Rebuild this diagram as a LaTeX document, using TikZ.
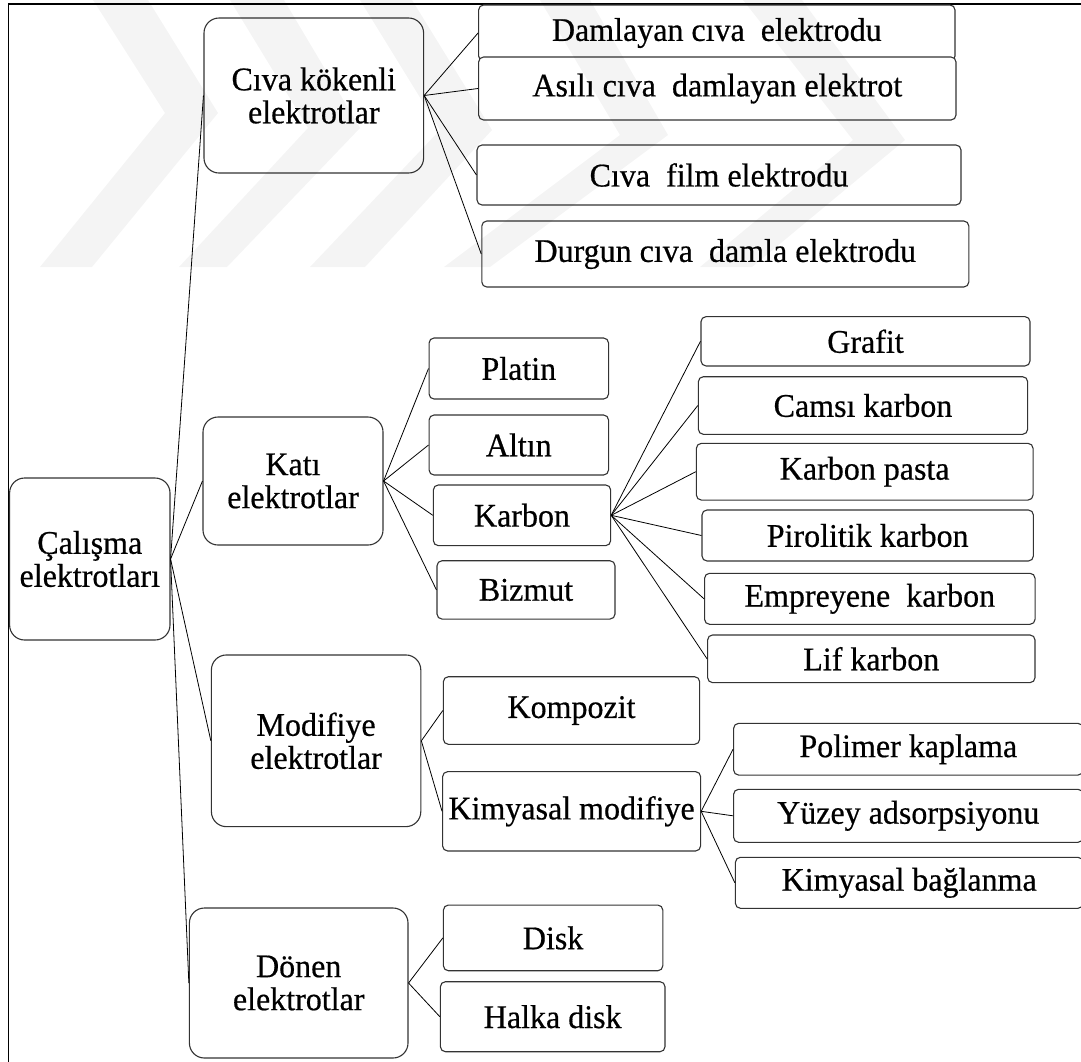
\documentclass[tikz,border=0pt]{standalone}
\usepackage{fontspec}
\setmainfont{Liberation Serif}[FakeStretch=0.97,FakeBold=0.5]
\definecolor{wmGray}{RGB}{0, 0, 0}

\begin{document}
\begin{tikzpicture}[x=1pt,y=-1pt,
        box/.style={draw=black!80, line width=1.1pt, fill=white, rounded corners=5pt,
            inner sep=2pt, align=center, font=\fontsize{33}{33}\selectfont},
        grp/.style={box, rounded corners=15pt},
        link/.style={draw=black, line width=0.8pt},
        mark wm/.style={fill=wmGray, fill opacity=0.045}]
            \path[use as bounding box] (0,0) rectangle (1081,1061);
            \clip (0,0) rectangle (1081,1061);
            \draw[line width=1.3pt] (8.6,1100) -- (8.6,4) -- (1100,4);

            \node[grp, minimum width=160.4pt, minimum height=162pt] (root) at (89.8,559) {Çalışma\\elektrotları};
            \node[grp, minimum width=219.6pt, minimum height=155pt] (civa) at (313.8,95.5) {Cıva kökenli\\elektrotlar};
            \node[grp, minimum width=180pt, minimum height=128pt] (kati) at (293,481) {Katı\\elektrotlar};
            \node[grp, minimum width=209.4pt, minimum height=171.7pt] (modif) at (316.1,740.8) {Modifiye\\elektrotlar};
            \node[grp, minimum width=218.6pt, minimum height=150pt] (donen) at (298.7,983) {Dönen\\elektrotlar};

            \node[box, minimum width=476.4pt, minimum height=56pt] (dam) at (716.8,33) {Damlayan cıva~ elektrodu};
            \node[box, minimum width=477.4pt, minimum height=63pt] (asili) at (717.3,88.5) {Asılı cıva~ damlayan elektrot};
            \node[box, minimum width=484pt, minimum height=60pt] (film) at (719,175) {Cıva~ film elektrodu};
            \node[box, minimum width=487pt, minimum height=66pt] (durgun) at (725.3,254) {Durgun cıva~ damla elektrodu};

            \node[box, minimum width=179.5pt, minimum height=61pt] (platin) at (518.8,368.5) {Platin};
            \node[box, minimum width=179.5pt, minimum height=60pt] (altin) at (518.8,445) {Altın};
            \node[box, minimum width=177.3pt, minimum height=60.7pt] (karbon) at (522,515.3) {Karbon};
            \node[box, minimum width=178pt, minimum height=58.3pt] (bizmut) at (526,589.9) {Bizmut};

            \node[box, minimum width=329pt, minimum height=49.3pt] (grafit) at (865.5,341.3) {Grafit};
            \node[box, minimum width=329.3pt, minimum height=57.6pt] (camsi) at (863,405.5) {Camsı karbon};
            \node[box, minimum width=336.7pt, minimum height=56.7pt] (pasta) at (864.7,471.7) {Karbon pasta};
            \node[box, minimum width=331.4pt, minimum height=51pt] (piro) at (867.7,535.5) {Pirolitik karbon};
            \node[box, minimum width=330.5pt, minimum height=51pt] (empre) at (869.8,598.8) {Empreyene~ karbon};
            \node[box, minimum width=327.4pt, minimum height=47.7pt] (lif) at (871.3,658.8) {Lif karbon};

            \node[box, minimum width=256.3pt, minimum height=67.6pt] (kompozit) at (571.5,710.5) {Kompozit};
            \node[box, minimum width=258pt, minimum height=79.3pt] (kimmod) at (571.6,811.3) {Kimyasal modifiye};
            \node[box, minimum width=349.4pt, minimum height=51.7pt] (polimer) at (908.3,749.2) {Polimer kaplama};
            \node[box, minimum width=349.4pt, minimum height=53pt] (yuzey) at (908.3,815.8) {Yüzey adsorpsiyonu};
            \node[box, minimum width=347.6pt, minimum height=51pt] (bag) at (909.2,882.8) {Kimyasal bağlanma};

            \node[box, minimum width=219.4pt, minimum height=65.7pt] (disk) at (553.1,937.9) {Disk};
            \node[box, minimum width=224.6pt, minimum height=70pt] (halka) at (552.7,1016.7) {Halka disk};

            \draw[link] (root.east) -- (civa.west);
            \draw[link] (root.east) -- (kati.west);
            \draw[link] (root.east) -- (modif.west);
            \draw[link] (root.east) -- (donen.west);

            \draw[link] (civa.east) -- (dam.west);
            \draw[link] (civa.east) -- (asili.west);
            \draw[link] (civa.east) -- (film.west);
            \draw[link] (civa.east) -- (durgun.west);

            \draw[link] (kati.east) -- (platin.west);
            \draw[link] (kati.east) -- (altin.west);
            \draw[link] (kati.east) -- (karbon.west);
            \draw[link] (kati.east) -- (bizmut.west);

            \draw[link] (karbon.east) -- (grafit.west);
            \draw[link] (karbon.east) -- (camsi.west);
            \draw[link] (karbon.east) -- (pasta.west);
            \draw[link] (karbon.east) -- (piro.west);
            \draw[link] (karbon.east) -- (empre.west);
            \draw[link] (karbon.east) -- (lif.west);

            \draw[link] (modif.east) -- (kompozit.west);
            \draw[link] (modif.east) -- (kimmod.west);
            \draw[link] (kimmod.east) -- (polimer.west);
            \draw[link] (kimmod.east) -- (yuzey.west);
            \draw[link] (kimmod.east) -- (bag.west);

            \draw[link] (donen.east) -- (disk.west);
            \draw[link] (donen.east) -- (halka.west);

            \fill[mark wm]
                (93,0) -- (148,0) -- (218,113) -- (92,267) -- (40,267) -- (165,113) -- cycle;
            \fill[mark wm]
                (230,0) -- (284,0) -- (360,128) -- (227,267) -- (179,267) -- (308,128) -- cycle;
            \fill[mark wm]
                (360,0) -- (412,0) -- (492,130) -- (365,267) -- (310,267) -- (440,130) -- cycle;
            \fill[mark wm]
                (540,0) -- (590,0) -- (668,135) -- (490,267) -- (444,267) -- (620,135) -- cycle;
            \fill[mark wm]
                (743,0) -- (802,0) -- (905,140) -- (752,267) -- (700,267) -- (853,140) -- cycle;
        \end{tikzpicture}
\end{document}
